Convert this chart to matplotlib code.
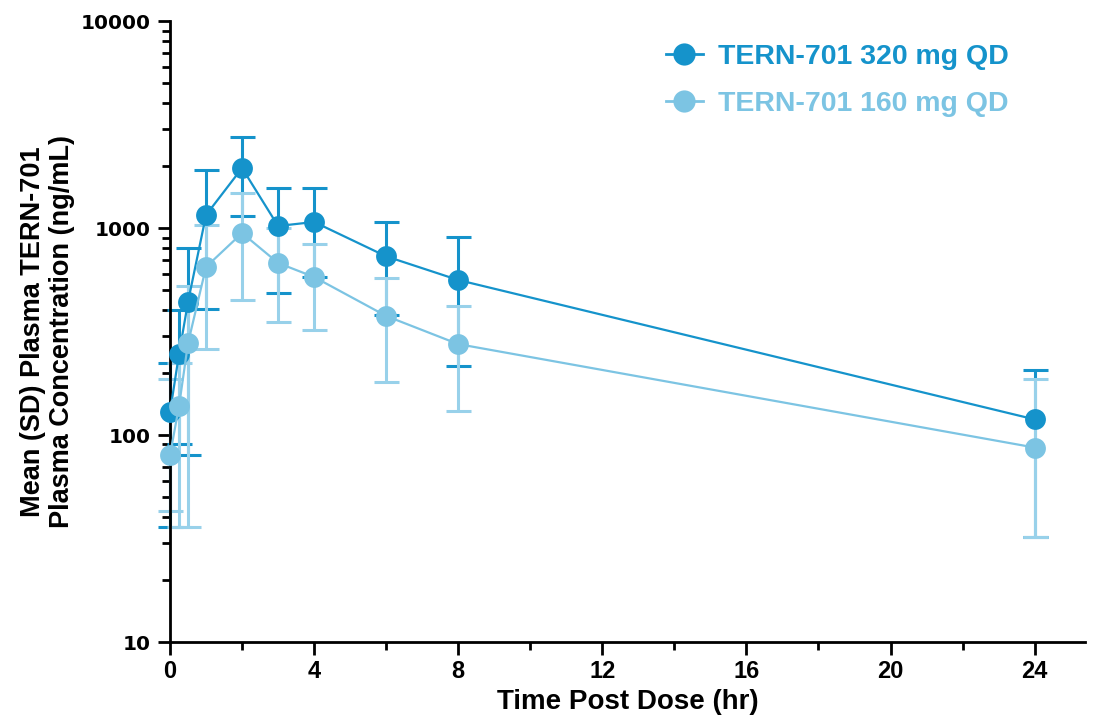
import matplotlib.pyplot as plt
import numpy as np
from matplotlib.lines import Line2D
from matplotlib.ticker import FixedLocator, NullFormatter

# tempos de coleta (h)
tempo = [0, 0.25, 0.5, 1, 2, 3, 4, 6, 8, 24]

# TERN-701 320 mg QD: media e limites das barras (media - DP, media + DP)
media_320 = [129, 246, 440, 1156, 1950, 1023, 1070, 730, 561, 119]
baixo_320 = [36, 91, 80, 406, 1145, 486, 580, 380, 216, 32]
alto_320 = [222, 402, 800, 1905, 2755, 1560, 1560, 1070, 906, 206]

# TERN-701 160 mg QD
media_160 = [80, 138, 278, 649, 946, 678, 580, 376, 275, 87]
baixo_160 = [43, 36, 36, 260, 449, 351, 323, 180, 130, 32]
alto_160 = [187, 222, 525, 1040, 1475, 1005, 837, 572, 420, 187]

cor_320 = '#1593cb'
cor_160 = '#7cc4e3'
cor_err_160 = '#98d1ea'

rotulos = ['TERN-701 320 mg QD', 'TERN-701 160 mg QD']

fig = plt.figure(figsize=(10.99, 7.22), dpi=100)
ax = fig.add_axes([0.1547, 0.1108, 0.8326, 0.860])


def desenhar(media, baixo, alto, cor, cor_err):
    media = np.array(media)
    yerr = [media - np.array(baixo), np.array(alto) - media]
    ax.errorbar(tempo, media, yerr=yerr, fmt='none', ecolor=cor_err,
                elinewidth=2.2, capsize=9, capthick=2.2, clip_on=False, zorder=2)
    ax.plot(tempo, media, '-', color=cor, lw=1.6, marker='o', markersize=15,
            markeredgewidth=0, clip_on=False, zorder=3)


desenhar(media_320, baixo_320, alto_320, cor_320, cor_320)
desenhar(media_160, baixo_160, alto_160, cor_160, cor_err_160)

ax.set_yscale('log')
ax.set_ylim(10, 10000)
ax.set_xlim(0, 25.4)

ax.yaxis.set_major_locator(FixedLocator([10, 100, 1000, 10000]))
menores = [m * d for d in [10, 100, 1000] for m in range(2, 10)]
ax.yaxis.set_minor_locator(FixedLocator(menores))
ax.yaxis.set_minor_formatter(NullFormatter())
ax.set_yticklabels(['10', '100', '1000', '10000'])
ax.set_xticks([0, 4, 8, 12, 16, 20, 24])
ax.set_xticks([2, 6, 10, 14, 18, 22], minor=True)

for s in ['top', 'right']:
    ax.spines[s].set_visible(False)
for s in ['left', 'bottom']:
    ax.spines[s].set_linewidth(2)

ax.tick_params(axis='both', which='major', length=9, width=2, direction='out')
ax.tick_params(axis='both', which='minor', length=6, width=2, direction='out',
               color='black', left=True, bottom=True)
ax.tick_params(axis='y', labelsize=14.5, pad=5)
ax.tick_params(axis='x', labelsize=17, pad=4)
for t in ax.get_yticklabels():
    t.set_fontweight('bold')
    t.set_family('DejaVu Sans')
for t in ax.get_xticklabels():
    t.set_fontweight('bold')
    t.set_family('Liberation Sans')

ax.set_xlabel('Time Post Dose (hr)', fontsize=20, fontweight='bold',
              family='Liberation Sans', labelpad=4)
ax.set_ylabel('Mean (SD) Plasma TERN-701\nPlasma Concentration (ng/mL)',
              fontsize=19.5, fontweight='bold', family='Liberation Sans',
              linespacing=1.15, labelpad=4)

alcas = [
    Line2D([], [], color=cor_320, marker='o', markersize=16, lw=2, markeredgewidth=0),
    Line2D([], [], color=cor_160, marker='o', markersize=16, lw=2, markeredgewidth=0),
]
leg = ax.legend(alcas, rotulos, loc='upper right', bbox_to_anchor=(0.945, 1.005),
                frameon=False, handlelength=1.3, handletextpad=0.55,
                labelspacing=0.75, prop={'size': 20.5, 'weight': 'bold',
                                         'family': 'Liberation Sans'})
for txt, cor in zip(leg.get_texts(), [cor_320, cor_160]):
    txt.set_color(cor)

plt.savefig('out.png', dpi=100)
